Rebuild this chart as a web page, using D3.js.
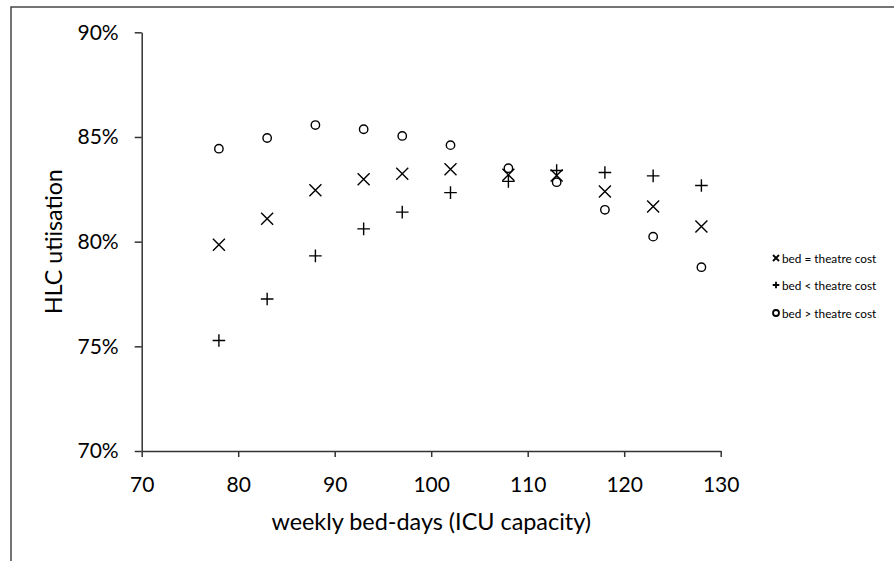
<!DOCTYPE html>
<html>
<head>
<meta charset="utf-8">
<script src="https://cdn.jsdelivr.net/npm/d3@7"></script>
<style>
  html, body { margin: 0; padding: 0; background: #fff; }
  svg { display: block; }
  text { font-family: Lato, "Open Sans", sans-serif; fill: #000; }
</style>
</head>
<body>
<svg id="chart" width="894" height="561"></svg>
<script>
// ---- data ----
const capacity = [78, 83, 88, 93, 97, 102, 108, 113, 118, 123, 128];
const bedEqTheatre = [79.85, 81.09, 82.46, 82.98, 83.24, 83.46, 83.19, 83.16, 82.39, 81.68, 80.72];
const bedLtTheatre = [75.28, 77.26, 79.32, 80.61, 81.41, 82.34, 82.88, 83.40, 83.30, 83.14, 82.68];
const bedGtTheatre = [84.44, 84.95, 85.57, 85.37, 85.05, 84.61, 83.51, 82.84, 81.52, 80.24, 78.78];
const seriesNames = ["bed = theatre cost", "bed < theatre cost", "bed > theatre cost"];
const xTicks = [70, 80, 90, 100, 110, 120, 130];
const yTicks = [0.70, 0.75, 0.80, 0.85, 0.90];
const xTitle = "weekly bed-days (ICU capacity)";
const yTitle = "HLC utiisation";

const svg = d3.select("#chart");
const ink = "#000";

// outer chart-area border (extends past the picture on right/bottom)
svg.append("rect")
  .attr("x", 11).attr("y", 7).attr("width", 1000).attr("height", 1000)
  .attr("fill", "none").attr("stroke", "#3a3a3a").attr("stroke-width", 1.4);

const x = d3.scaleLinear().domain([70, 130]).range([141.7, 720.7]);
const y = d3.scaleLinear().domain([0.70, 0.90]).range([451, 32.3]);

// axes
const xAxis = svg.append("g").attr("transform", `translate(0,${y(0.70)})`)
  .call(d3.axisBottom(x).tickValues(xTicks).tickSize(6).tickSizeOuter(0).tickPadding(20).tickFormat(d3.format("d")));
const yAxis = svg.append("g").attr("transform", `translate(${x(70)},0)`)
  .call(d3.axisLeft(y).tickValues(yTicks).tickSize(7).tickSizeOuter(0).tickPadding(16).tickFormat(d3.format(".0%")));

[xAxis, yAxis].forEach(g => {
  g.select(".domain").attr("stroke", "#333").attr("stroke-width", 1.5);
  g.selectAll(".tick line").attr("stroke", "#333").attr("stroke-width", 1.5);
  g.selectAll(".tick text").style("font-size", "21px").attr("fill", "#111");
});

// axis titles
svg.append("text")
  .attr("x", (x(70) + x(130)) / 2).attr("y", 530)
  .attr("text-anchor", "middle").style("font-size", "23.4px")
  .text(xTitle);
svg.append("text")
  .attr("transform", `translate(62,${(y(0.70) + y(0.90)) / 2}) rotate(-90)`)
  .attr("text-anchor", "middle").style("font-size", "23.2px")
  .text(yTitle);

// marker drawers
function drawX(g, cx, cy, s, sw) {
  g.append("path")
    .attr("d", `M${cx - s},${cy - s}L${cx + s},${cy + s}M${cx - s},${cy + s}L${cx + s},${cy - s}`)
    .attr("stroke", ink).attr("stroke-width", sw).attr("fill", "none");
}
function drawPlus(g, cx, cy, s, sw) {
  g.append("path")
    .attr("d", `M${cx - s},${cy}L${cx + s},${cy}M${cx},${cy - s}L${cx},${cy + s}`)
    .attr("stroke", ink).attr("stroke-width", sw).attr("fill", "none");
}
function drawCircle(g, cx, cy, r, sw) {
  g.append("circle").attr("cx", cx).attr("cy", cy).attr("r", r)
    .attr("stroke", ink).attr("stroke-width", sw).attr("fill", "none");
}

const marks = svg.append("g");
capacity.forEach((c, i) => {
  drawCircle(marks, x(c), y(bedGtTheatre[i] / 100), 4.2, 1.4);
  drawX(marks, x(c), y(bedEqTheatre[i] / 100), 6, 1.4);
  drawPlus(marks, x(c), y(bedLtTheatre[i] / 100), 6.3, 1.4);
});

// legend
const legendY = [258, 285, 313];
const legend = svg.append("g");
const drawers = [
  (cx, cy) => drawX(legend, cx, cy, 3, 1.8),
  (cx, cy) => drawPlus(legend, cx, cy, 3.3, 1.8),
  (cx, cy) => drawCircle(legend, cx, cy, 3, 1.8)
];
seriesNames.forEach((name, i) => {
  drawers[i](776, legendY[i]);
  legend.append("text").attr("x", 782).attr("y", legendY[i])
    .attr("dominant-baseline", "central").style("font-size", "11.8px")
    .text(name);
});
</script>
</body>
</html>
